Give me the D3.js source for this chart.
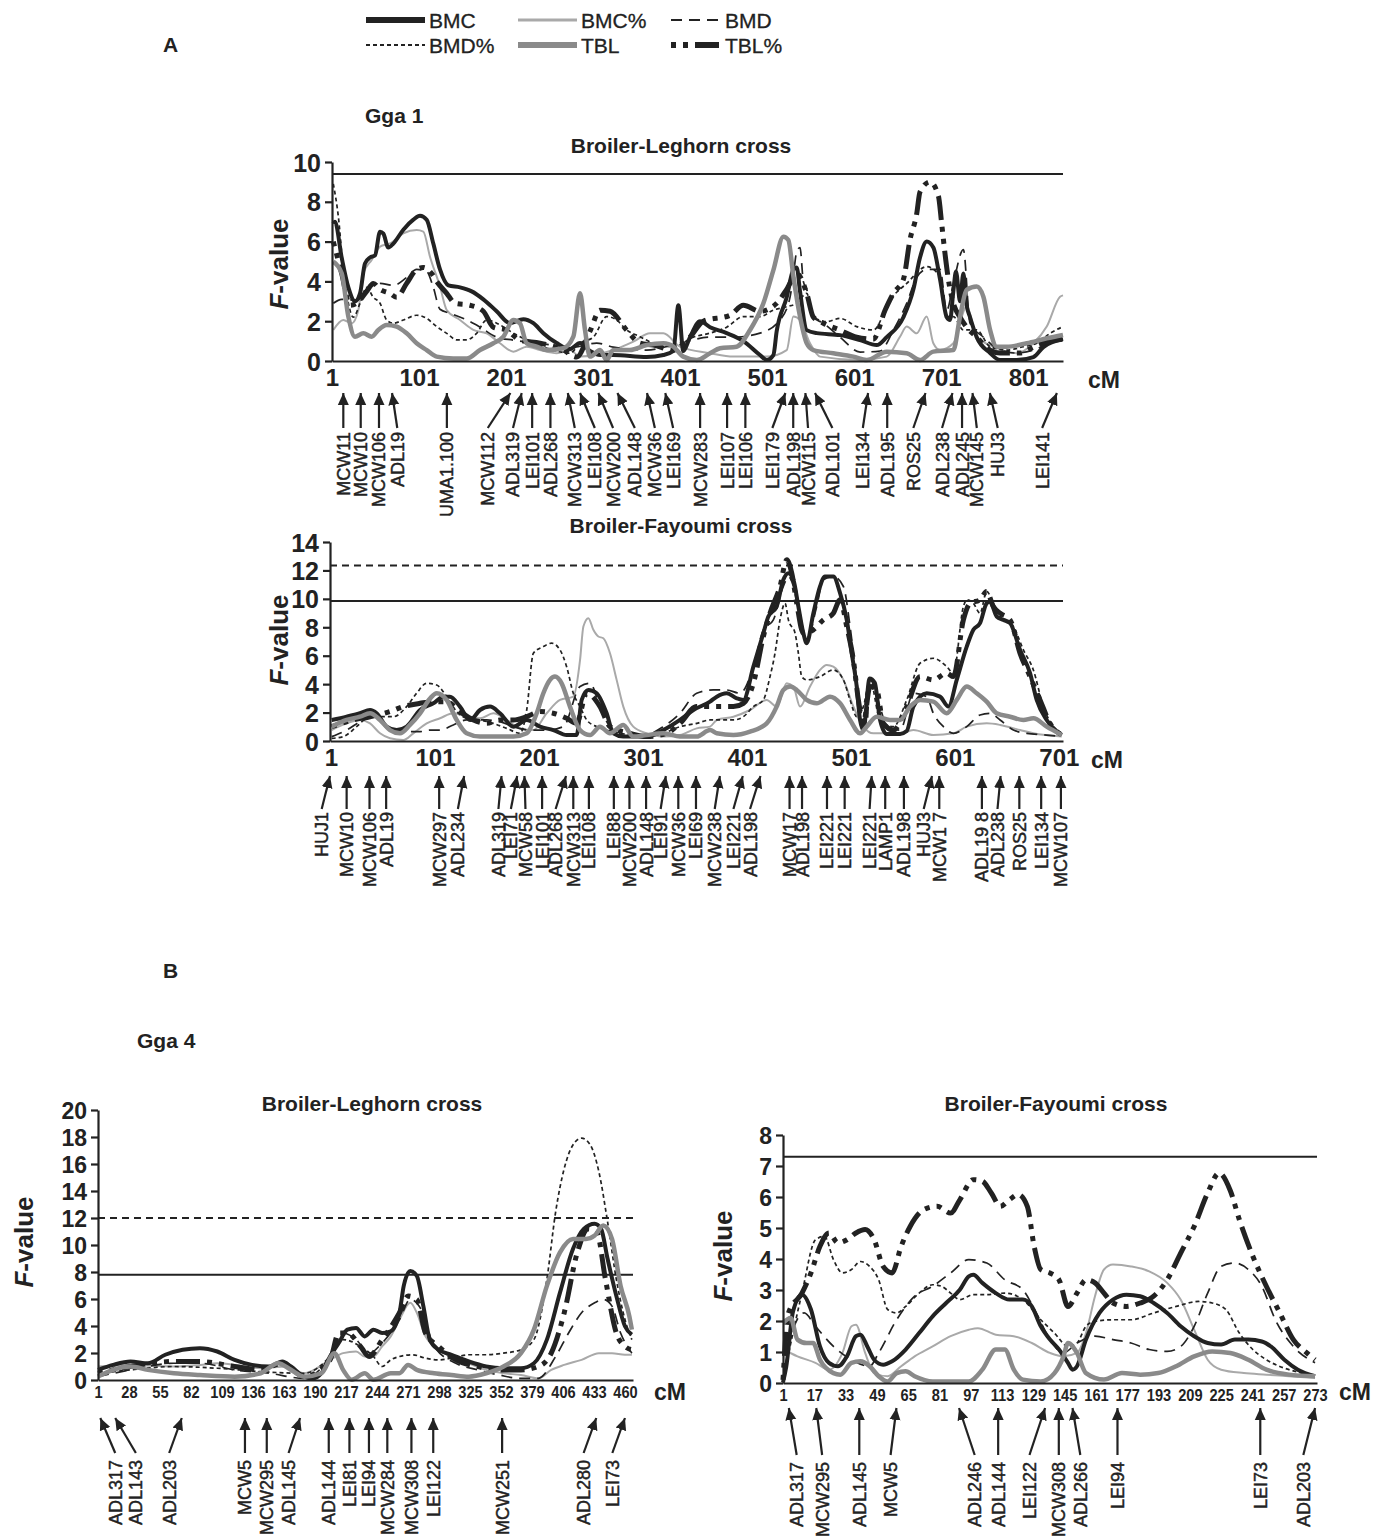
<!DOCTYPE html>
<html><head><meta charset="utf-8">
<script src="https://cdn.jsdelivr.net/npm/d3@7"></script>
<style>
body{margin:0;background:#fff}
svg{display:block}
text{font-family:"Liberation Sans",Arial,Helvetica,sans-serif;fill:#222}
</style>
</head><body>
<svg id="chart" width="1387" height="1537"></svg>
<script>
// ---------------- DATA ----------------
const seriesNames = ["BMC","BMC%","BMD","BMD%","TBL","TBL%"];

// Gga 1, Broiler-Leghorn cross  [cM, F]
const g1BL_BMC = [[2.5,6.9],[4.4,7.0],[12.1,5.2],[19.8,3.7],[27.4,3.0],[33.2,3.4],[38.9,4.9],[44.7,5.2],[50.4,5.3],[56.2,6.5],[60,6.4],[65.7,5.7],[71.5,5.9],[83,6.6],[94.5,7.1],[102.1,7.3],[109.8,7.1],[117.4,5.9],[125.1,4.6],[134.7,3.8],[148.1,3.7],[161.5,3.5],[174.9,3.1],[190.2,2.5],[205.5,1.9],[220.9,2.1],[232.4,1.9],[243.9,1.4],[259.2,0.9],[274.5,0.6],[286,0.9],[297.5,0.5],[309,0.3],[324.3,0.3],[362.6,0.2],[381.8,0.3],[393.3,0.5],[399,2.8],[404.7,0.5],[412.4,1.2],[423.9,2.0],[435.4,1.7],[454.5,1.4],[473.7,1.0],[492.8,0.3],[500.5,0.05],[508.2,0.3],[512,1.5],[523.5,3.2],[531.2,4.6],[535,4.7],[538.8,3.5],[546.5,1.55],[558,1.4],[584.8,1.3],[607.8,1.05],[626.9,0.8],[638.4,1.2],[657.6,2.2],[669.1,3.6],[676.7,5.2],[684.4,6.0],[692,5.7],[699.7,4.1],[707.4,2.2],[711.2,2.06],[715,3.5],[718,4.5],[722.7,3.0],[726.5,4.4],[730.3,2.8],[734.2,2.2],[741.8,1.2],[757.2,0.4],[768.6,0.05],[787.8,0.05],[807,0.2],[818.4,0.7],[841,1.1]];
const g1BL_BMCp = [[2.5,1.56],[14,2.06],[23.6,1.89],[31.3,2.56],[37,4.41],[46.6,5.08],[56.2,5.75],[67.6,5.91],[83,6.42],[98.3,6.58],[105.9,6.5],[113.6,5.24],[125.1,3.74],[132.8,2.56],[148.1,2.06],[163.4,1.56],[178.7,1.39],[194.1,0.89],[209.4,0.47],[224.7,0.72],[240,0.55],[259.2,0.39],[274.5,0.55],[286,0.22],[324.3,0.55],[347.3,0.97],[366.4,1.39],[381.8,1.39],[400.9,0.72],[435.4,0.39],[462.2,0.22],[500.5,0.22],[523.5,0.55],[531.2,2.23],[538.8,2.06],[550.3,0.89],[561.8,0.22],[607.8,0.05],[638.4,0.22],[653.7,1.22],[661.4,1.73],[672.9,1.39],[684.4,2.23],[692,0.89],[699.7,0.55],[715,0.89],[730.3,2.73],[741.8,1.22],[761,0.72],[787.8,0.39],[807,0.89],[822.3,1.73],[837.6,3.23],[841,3.3]];
const g1BL_BMD = [[2.5,2.9],[12.1,3.1],[29.3,3.05],[44.7,3.7],[56.2,3.9],[71.5,3.8],[86.8,4.2],[98.3,4.6],[109.8,4.5],[117.4,3.7],[125.1,2.6],[136.6,2.4],[155.8,2.06],[171.1,1.7],[190.2,1.2],[209.4,1.05],[232.4,0.9],[255.3,0.8],[278.3,0.7],[305.1,0.9],[324.3,0.7],[362.6,0.55],[400.9,0.9],[435.4,1.2],[462.2,1.2],[492.8,1.4],[515.8,2.06],[527.3,3.2],[531.2,4.3],[535,5.5],[538.8,5.7],[542.6,4.0],[546.5,3.6],[554.1,2.2],[565.6,1.9],[584.8,1.2],[607.8,0.45],[630.7,0.5],[646.1,1.55],[661.4,2.9],[672.9,4.2],[684.4,4.6],[699.7,4.6],[707.4,2.55],[715,3.9],[726.5,5.6],[734.2,1.9],[749.5,1.2],[768.6,0.55],[787.8,0.4],[807,0.55],[826.1,0.9],[841,1.1]];
const g1BL_BMDp = [[2.5,8.9],[8.3,7.25],[14,4.6],[19.8,2.9],[25.5,2.2],[33.2,2.9],[40.8,3.7],[48.5,3.2],[56.2,2.9],[63.8,2.06],[71.5,1.9],[83,2.06],[98.3,2.3],[109.8,2.14],[121.3,1.73],[132.8,1.39],[144.3,1.06],[155.8,1.06],[167.2,1.39],[178.7,2.06],[190.2,1.9],[209.4,1.4],[232.4,0.9],[255.3,0.55],[274.5,0.39],[286,0.9],[301.3,1.2],[316.6,2.23],[328.1,2.06],[339.6,1.56],[354.9,1.22],[370.3,0.89],[393.3,0.72],[416.2,1.2],[435.4,1.4],[454.5,1.7],[473.7,2.23],[492.8,2.23],[508.2,2.56],[523.5,2.73],[535,2.9],[546.5,3.4],[554.1,2.23],[569.5,1.98],[584.8,2.14],[603.9,1.73],[623.1,1.56],[642.2,3.07],[661.4,3.9],[684.4,4.74],[699.7,4.24],[707.4,2.23],[715,2.23],[726.5,1.56],[741.8,1.56],[757.2,0.72],[776.3,0.55],[795.5,0.72],[810.8,0.89],[826.1,1.39],[841,1.73]];
const g1BL_TBL = [[2.5,4.99],[12.1,4.41],[19.8,2.23],[27.4,1.22],[37,1.39],[46.6,1.22],[54.2,1.56],[63.8,1.81],[75.3,1.73],[86.8,1.39],[98.3,0.89],[109.8,0.55],[121.3,0.22],[140.4,0.13],[155.8,0.13],[171.1,0.55],[186.4,0.89],[197.9,1.22],[209.4,2.06],[217,1.89],[224.7,0.89],[236.2,0.72],[247.7,0.55],[266.8,0.64],[278.3,1.22],[286,3.4],[291.7,1.56],[297.5,0.22],[309,0.55],[316.6,0.05],[324.3,0.55],[343.4,0.55],[362.6,0.8],[381.8,0.89],[393.3,0.72],[404.7,0.22],[420.1,0.05],[435.4,0.39],[446.9,0.64],[466,0.72],[481.4,1.56],[496.7,2.9],[508.2,4.57],[519.7,6.25],[525.4,6.08],[531.2,4.24],[538.8,2.23],[546.5,0.89],[554.1,0.55],[577.1,0.39],[600.1,0.22],[615.4,0.05],[638.4,0.47],[661.4,0.39],[676.7,0.05],[692,0.47],[715,0.55],[722.7,2.23],[730.3,3.57],[741.8,3.74],[749.5,3.23],[757.2,1.56],[764.8,0.72],[776.3,0.72],[799.3,0.89],[822.3,1.14],[841,1.31]];
const g1BL_TBLp = [[2.5,6.0],[12.1,4.4],[21.7,2.8],[29.3,2.9],[40.8,3.5],[48.5,3.9],[56.2,3.6],[67.6,3.4],[75.3,3.2],[86.8,3.9],[98.3,4.6],[105.9,4.7],[115.5,4.4],[121.3,4.0],[132.8,3.4],[142.3,2.9],[159.6,2.8],[174.9,2.5],[186.4,1.7],[201.7,1.55],[217,1.05],[240,0.9],[266.8,0.55],[282.1,0.2],[297.5,1.5],[309,2.55],[320.5,2.5],[339.6,1.55],[354.9,0.9],[370.3,0.8],[393.3,0.55],[412.4,1.2],[427.7,2.0],[458.4,2.3],[473.7,2.8],[492.8,2.5],[512,2.9],[523.5,3.6],[535,4.4],[546.5,3.4],[554.1,2.2],[565.6,1.9],[584.8,1.55],[603.9,1.2],[623.1,1.1],[636.5,2.55],[646.1,3.4],[657.6,4.1],[665.2,6.1],[672.9,7.4],[676.7,8.5],[688.2,9.0],[697.8,8.3],[701.6,6.9],[705.4,5.4],[709.3,4.1],[715,2.9],[722.7,2.2],[730.3,1.7],[741.8,1.2],[757.2,0.55],[768.6,0.4],[791.6,0.4],[807,0.7],[826.1,1.0],[841,1.1]];
const g1BL_threshold = [9.4];
const g1BL_thresholdDashed = [];

// Gga 1, Broiler-Fayoumi cross
const g1BF_BMC = [[1.6,1.48],[16,1.71],[28.8,1.95],[38.5,2.18],[44.9,1.95],[54.5,1.01],[64.1,0.77],[73.7,1.01],[86.6,2.18],[99.4,2.65],[109,3.12],[115.4,3.12],[125,2.42],[134.7,1.48],[144.3,2.18],[153.9,2.42],[163.5,1.95],[176.3,1.01],[189.2,1.48],[202,1.01],[214.8,0.77],[227.6,0.42],[237.2,0.42],[242.1,2.89],[248.5,3.59],[256.5,3.36],[266.1,1.95],[272.5,0.54],[282.1,0.31],[304.6,0.31],[320.6,0.77],[336.6,1.48],[349.5,2.18],[365.5,2.77],[372,3.12],[381.5,3.36],[391.2,3.0],[397.6,2.89],[407.2,5.23],[416.8,7.58],[421.6,8.76],[429.6,9.46],[436,11.34],[440.9,11.81],[445.7,11.34],[450.5,9.46],[455.3,7.58],[458.5,6.88],[464.9,8.99],[471.3,10.87],[476,11.57],[484.1,11.57],[490.6,10.4],[497,8.52],[501.8,6.17],[506.6,3.83],[509.8,1.48],[513,0.77],[519,4.4],[524,4.1],[529,1.5],[535.4,0.5],[548.3,0.5],[554.7,0.7],[561.1,2.42],[573.9,3.36],[586.7,3.12],[594.8,2.42],[602.8,4.3],[612.4,6.64],[618.8,7.82],[625.2,8.29],[631.6,9.69],[634.8,9.81],[641.2,8.76],[647.7,8.52],[654.1,8.29],[663.7,6.41],[673.3,4.77],[679.7,2.89],[689.3,1.48],[703.8,0.42]];
const g1BF_BMCp = [[1.6,0.77],[16,1.24],[28.8,1.48],[38.5,1.24],[48.1,0.54],[57.7,0.19],[70.5,0.07],[80.1,0.54],[93,1.24],[105.8,1.6],[118.6,1.95],[131.4,1.71],[144.3,1.6],[157.1,1.95],[169.9,1.48],[182.7,0.89],[195.6,0.77],[208.4,1.95],[221.2,2.89],[234,3.12],[240.5,5.7],[243.7,8.05],[248.5,8.64],[253.3,7.82],[258.1,7.35],[262.9,7.23],[269.3,6.17],[275.7,4.3],[282.1,2.42],[291.7,1.01],[304.6,0.54],[320.6,0.31],[336.6,0.42],[352.7,0.89],[365.5,1.01],[372,1.48],[388,1.71],[404,2.18],[420,2.89],[429.6,2.42],[439.3,4.06],[445.7,3.83],[452.1,2.42],[461.7,3.83],[471.3,5.0],[477.7,5.35],[484.1,5.23],[493.8,4.3],[503.4,2.42],[513,1.01],[522.6,0.54],[548.3,0.54],[561.1,0.77],[580.3,0.42],[599.6,0.54],[612.4,1.01],[631.6,1.24],[644.5,1.13],[663.7,0.77],[676.5,0.54],[703.8,0.31]];
const g1BF_BMD = [[1.6,0.31],[16,0.77],[32.1,1.48],[44.9,1.71],[57.7,0.77],[70.5,0.66],[86.6,0.66],[96.2,0.77],[105.8,0.77],[118.6,1.13],[131.4,1.48],[150.7,1.48],[163.5,1.36],[176.3,1.01],[192.4,0.77],[208.4,0.77],[224.4,1.01],[240.5,3.83],[250.1,4.06],[259.7,2.42],[269.3,1.01],[288.5,0.31],[304.6,0.42],[320.6,1.01],[336.6,1.95],[352.7,3.36],[368.7,3.6],[381.5,3.59],[394.4,3.36],[407.2,5.23],[416.8,7.82],[426.4,8.52],[436,10.87],[440.9,11.57],[445.7,10.87],[452.1,8.52],[458.5,7.11],[468.1,9.46],[474.5,11.34],[484.1,11.57],[493.8,10.87],[500.2,8.05],[505,5.23],[509.8,2.42],[516.2,1.01],[519.4,4.3],[529,2.42],[535.4,1.01],[548.3,0.77],[561.1,3.36],[573.9,3.12],[580.3,1.95],[590,1.01],[599.6,0.54],[612.4,1.01],[625.2,1.83],[634.8,1.95],[644.5,1.48],[657.3,0.77],[670.1,0.54],[689.3,0.42],[703.8,0.31]];
const g1BF_BMDp = [[1.6,0.19],[12.8,0.31],[25.6,1.01],[35.3,1.6],[44.9,1.71],[60.9,1.71],[73.7,2.42],[83.3,3.36],[93,4.06],[102.6,3.94],[112.2,3.12],[121.8,2.07],[131.4,1.6],[144.3,1.48],[157.1,1.24],[169.9,0.89],[182.7,0.54],[189.2,2.18],[195.6,6.17],[205.2,6.64],[213.2,6.88],[221.2,6.41],[227.6,5.23],[234,3.36],[240.5,2.42],[246.9,1.48],[256.5,1.01],[266.1,0.77],[288.5,0.42],[304.6,0.31],[320.6,0.54],[336.6,1.01],[352.7,1.24],[365.5,1.48],[375.1,1.48],[388,1.48],[397.6,1.71],[407.2,2.42],[416.8,2.89],[423.2,4.53],[428,6.17],[432.8,8.52],[437.7,9.69],[440.9,8.52],[447.3,7.58],[450.5,6.17],[453.7,4.53],[458.5,4.3],[471.3,4.53],[484.1,5.0],[493.8,4.3],[500.2,2.89],[506.6,1.71],[513,2.42],[519.4,4.3],[529,1.48],[541.9,1.01],[554.7,2.89],[567.5,5.47],[580.3,5.82],[593.2,5.23],[599.6,4.77],[609.2,9.46],[612.4,9.93],[618.8,9.69],[625.2,8.99],[631.6,10.52],[638,9.69],[644.5,8.76],[657.3,8.05],[666.9,6.41],[676.5,5.0],[686.1,2.42],[695.7,1.01],[703.8,0.54]];
const g1BF_TBL = [[1.6,1.01],[16,1.48],[28.8,1.71],[38.5,1.95],[48.1,1.48],[57.7,0.77],[67.3,0.54],[76.9,1.13],[86.6,1.95],[96.2,2.99],[102.6,3.36],[112.2,2.89],[121.8,1.48],[131.4,0.54],[144.3,0.31],[160.3,0.31],[176.3,0.31],[189.2,0.54],[198.8,1.95],[205.2,3.36],[211.6,4.3],[216.4,4.53],[222.8,4.06],[230.8,2.42],[240.5,0.77],[250.1,0.42],[259.7,1.01],[269.3,0.54],[282.1,1.13],[291.7,0.31],[304.6,0.42],[320.6,0.54],[336.6,0.31],[352.7,0.31],[365.5,0.77],[372,0.54],[388,0.42],[404,0.66],[420,1.24],[429.6,2.42],[436,3.59],[442.5,3.83],[448.9,3.59],[458.5,2.89],[468.1,2.65],[480.9,3.12],[490.6,2.65],[500.2,1.48],[509.8,0.54],[516.2,1.01],[525.8,1.71],[538.6,1.48],[548.3,1.48],[557.9,2.42],[567.5,2.89],[580.3,2.77],[593.2,1.95],[602.8,2.89],[612.4,3.83],[622,3.36],[631.6,2.77],[641.2,1.95],[654.1,1.71],[666.9,1.48],[676.5,1.6],[689.3,1.01],[703.8,0.42]];
const g1BF_TBLp = [[1.6,1.01],[22.4,1.48],[38.5,1.71],[57.7,2.07],[70.5,2.42],[86.6,2.65],[99.4,2.77],[112.2,2.77],[125,2.07],[137.9,1.48],[150.7,1.24],[163.5,1.48],[176.3,1.48],[189.2,1.71],[202,2.07],[214.8,1.95],[227.6,1.6],[237.2,1.24],[246.9,3.36],[259.7,2.42],[269.3,1.01],[288.5,0.54],[304.6,0.31],[323.8,0.54],[336.6,1.24],[352.7,2.42],[372,2.42],[388,2.42],[397.6,2.65],[407.2,4.06],[416.8,7.35],[423.2,8.99],[432.8,10.87],[439.3,12.75],[444.1,11.81],[448.9,9.69],[455.3,7.58],[464.9,7.82],[474.5,8.52],[484.1,8.99],[490.6,9.93],[497,8.05],[503.4,5.7],[508.2,2.89],[513,1.24],[519.4,3.83],[525.8,3.59],[532.2,1.24],[541.9,0.77],[554.7,2.42],[567.5,4.53],[580.3,4.3],[593.2,4.77],[599.6,4.53],[609.2,8.52],[615.6,9.69],[625.2,9.93],[631.6,10.52],[638,9.46],[644.5,8.99],[654.1,8.52],[663.7,6.17],[673.3,4.53],[682.9,2.89],[692.5,1.24],[703.8,0.42]];
const g1BF_threshold = [9.85];
const g1BF_thresholdDashed = [12.35];

// Gga 4, Broiler-Leghorn cross
const g4BL_BMC = [[1,0.75],[14.2,1.12],[29.3,1.37],[44.4,1.24],[59.6,1.87],[74.7,2.24],[89.8,2.36],[104.9,2.11],[120,1.49],[135.1,1.12],[150.2,1.0],[161.6,1.37],[169.1,1.0],[180.5,0.25],[188,0.12],[195.6,0.5],[203.1,1.74],[210.7,2.74],[218.2,3.73],[225.8,3.86],[233.3,3.23],[240.9,3.73],[248.5,3.48],[256,3.61],[263.6,4.98],[267.3,6.97],[273,8.08],[278.7,7.71],[284.4,5.47],[290,2.99],[297.6,2.24],[308.9,1.87],[324,1.37],[339.1,1.0],[354.2,0.87],[369.4,0.87],[380.7,1.24],[392,2.99],[403.4,6.47],[414.7,9.7],[424.1,11.19],[433.6,11.57],[439.2,11.19],[444.9,8.96],[452.5,6.22],[460,3.98],[466,3.36]];
const g4BL_BMCp = [[1,1.0],[29.3,1.12],[67.1,1.0],[89.8,1.12],[104.9,1.24],[120,1.12],[142.7,0.87],[165.3,1.0],[180.5,0.5],[203.1,1.49],[214.5,1.99],[225.8,2.11],[233.3,1.74],[240.9,1.74],[248.5,2.49],[256,3.23],[263.6,4.48],[273,5.72],[278.7,4.98],[286.2,3.23],[293.8,2.49],[308.9,1.74],[324,1.24],[339.1,0.75],[354.2,0.5],[369.4,0.37],[384.5,0.12],[395.8,0.75],[407.1,1.12],[422.2,1.49],[437.3,1.99],[448.7,1.99],[460,1.87],[466,1.87]];
const g4BL_BMD = [[1,0.25],[29.3,0.75],[67.1,1.24],[89.8,1.24],[120,0.75],[150.2,0.5],[180.5,0.12],[203.1,1.74],[214.5,3.48],[225.8,2.99],[237.1,1.99],[248.5,2.74],[263.6,4.48],[273,5.97],[282.5,5.22],[293.8,2.49],[312.7,1.24],[331.6,0.75],[350.5,0.37],[369.4,0.12],[384.5,0.12],[399.6,1.74],[410.9,3.48],[422.2,4.98],[433.6,5.72],[441.1,5.97],[448.7,5.47],[456.2,3.48],[466,1.99]];
const g4BL_BMDp = [[1,0.5],[29.3,0.75],[67.1,1.0],[104.9,0.87],[142.7,0.62],[180.5,0.5],[203.1,1.74],[214.5,2.99],[229.6,2.49],[240.9,1.74],[248.5,1.0],[256,1.49],[263.6,1.74],[274.9,1.87],[286.2,1.62],[297.6,1.49],[308.9,1.62],[324,1.87],[339.1,1.87],[354.2,1.99],[369.4,2.24],[380.7,2.99],[392,7.46],[399.6,12.44],[407.1,15.67],[414.7,17.41],[422.2,17.91],[429.8,17.41],[437.3,15.42],[444.9,11.69],[452.5,7.46],[460,4.48],[466,2.99]];
const g4BL_TBL = [[1,0.25],[14.2,0.75],[29.3,1.0],[44.4,0.75],[67.1,0.5],[89.8,0.37],[120,0.25],[142.7,0.5],[157.8,1.24],[169.1,0.75],[180.5,0.25],[195.6,0.5],[206.9,1.99],[214.5,0.75],[222,0.02],[233.3,0.5],[240.9,0.02],[256,0.5],[263.6,0.5],[271.1,1.12],[278.7,0.75],[293.8,0.5],[308.9,0.37],[324,0.25],[339.1,0.5],[354.2,1.0],[369.4,1.99],[380.7,3.73],[392,6.97],[403.4,9.45],[414.7,10.45],[426,10.45],[433.6,10.7],[441.1,11.44],[448.7,10.45],[456.2,6.97],[463.8,4.73],[466,3.73]];
const g4BL_TBLp = [[1,0.5],[29.3,1.0],[67.1,1.37],[89.8,1.37],[120,1.0],[142.7,0.75],[161.6,1.24],[180.5,0.25],[203.1,1.49],[210.7,3.48],[218.2,3.48],[229.6,2.49],[237.1,1.74],[248.5,2.99],[263.6,4.98],[271.1,6.22],[278.7,5.97],[286.2,3.48],[297.6,2.49],[312.7,1.49],[331.6,1.0],[350.5,0.75],[369.4,0.75],[384.5,1.0],[395.8,1.99],[407.1,4.98],[418.5,9.45],[427.9,11.19],[435.5,10.95],[443,7.46],[452.5,3.48],[460,2.49],[466,2.24]];
const g4BL_threshold = [7.8];
const g4BL_thresholdDashed = [12.0];

// Gga 4, Broiler-Fayoumi cross
const g4BF_BMC = [[1,0.02],[2.6,0.5],[6.1,2.3],[10.7,2.85],[15.3,2.37],[19.9,1.18],[24.5,0.65],[29.1,0.54],[33.7,0.86],[38.3,1.51],[40.6,1.56],[44.1,1.18],[47.6,0.75],[52.2,0.59],[56.8,0.7],[63.7,1.08],[70.6,1.61],[77.5,2.15],[84.4,2.58],[91.4,3.01],[96,3.44],[98.3,3.49],[102.9,3.23],[109.8,2.9],[116.7,2.69],[123.6,2.69],[128.2,2.47],[132.8,1.83],[137.5,1.4],[142.1,1.08],[146.7,0.65],[149,0.43],[151.3,0.54],[155.9,1.4],[162.8,2.26],[169.7,2.69],[176.6,2.85],[183.6,2.8],[190.5,2.58],[197.4,2.26],[204.3,1.83],[211.2,1.51],[218.1,1.29],[225,1.24],[232,1.4],[238.9,1.4],[245.8,1.34],[250.4,1.18],[257.3,0.75],[264.2,0.43],[273,0.22]];
const g4BF_BMCp = [[1,1.08],[8.4,0.86],[17.6,0.65],[24.5,0.43],[31.4,0.97],[36,1.83],[38.3,1.88],[43,0.97],[47.6,0.32],[54.5,0.22],[61.4,0.54],[68.3,0.86],[77.5,1.18],[86.7,1.51],[96,1.72],[100.6,1.77],[109.8,1.56],[119,1.51],[128.2,1.29],[137.5,0.97],[144.4,0.86],[151.3,0.97],[155.9,1.61],[160.5,2.8],[165.1,3.66],[169.7,3.82],[178.9,3.76],[188.2,3.6],[197.4,3.23],[204.3,2.69],[211.2,1.72],[218.1,0.75],[225,0.43],[236.6,0.32],[248.1,0.27],[259.6,0.22],[273,0.16]];
const g4BF_BMD = [[1,0.05],[6.1,1.72],[11.8,2.26],[17.6,1.83],[26.8,1.18],[36,0.75],[45.3,0.54],[49.9,0.97],[59.1,2.04],[68.3,2.8],[77.5,3.12],[86.7,3.55],[96,3.98],[105.2,3.87],[114.4,3.33],[123.6,3.01],[130.5,2.26],[137.5,1.4],[144.4,0.97],[151.3,1.29],[160.5,1.51],[169.7,1.4],[178.9,1.29],[188.2,1.08],[197.4,1.02],[204.3,1.18],[211.2,1.83],[218.1,2.9],[225,3.76],[232,3.87],[238.9,3.66],[245.8,3.12],[252.7,2.04],[261.9,1.18],[273,0.65]];
const g4BF_BMDp = [[1,0.1],[10.7,2.9],[17.6,4.62],[22.2,4.73],[26.8,3.98],[31.4,3.55],[36,3.66],[40.6,3.92],[45.3,3.76],[49.9,3.33],[54.5,2.37],[59.1,2.26],[63.7,2.47],[70.6,2.9],[77.5,3.17],[82.1,3.12],[86.7,2.9],[91.4,2.69],[98.3,2.85],[105.2,2.85],[114.4,2.9],[123.6,2.69],[132.8,2.04],[139.8,1.61],[146.7,1.18],[151.3,1.29],[155.9,1.83],[160.5,1.99],[169.7,2.04],[178.9,2.04],[190.5,2.26],[202,2.47],[213.5,2.63],[220.4,2.58],[227.4,2.37],[234.3,1.61],[241.2,1.08],[248.1,0.75],[257.3,0.48],[266.5,0.32],[273,0.22]];
const g4BF_TBL = [[1,1.94],[4.9,2.1],[8.4,1.4],[13,1.29],[16.4,1.29],[19.9,0.75],[26.8,0.32],[30.3,0.27],[36,0.65],[40.6,0.7],[45.3,0.54],[49.9,0.22],[54.5,0.05],[59.1,0.32],[63.7,0.38],[68.3,0.22],[77.5,0.05],[86.7,0.05],[96,0.05],[102.9,0.43],[109.8,1.08],[114.4,1.08],[119,0.43],[123.6,0.11],[132.8,0.05],[139.8,0.32],[144.4,0.86],[146.7,1.29],[151.3,0.97],[155.9,0.32],[165.1,0.11],[174.3,0.32],[183.6,0.27],[192.8,0.32],[202,0.54],[211.2,0.86],[220.4,1.02],[229.7,0.97],[238.9,0.75],[248.1,0.43],[259.6,0.27],[273,0.22]];
const g4BF_TBLp = [[1,0.1],[3.8,2.26],[10.7,2.9],[15.3,3.55],[19.9,4.41],[24.5,4.84],[29.1,4.52],[33.7,4.62],[38.3,4.84],[43,4.95],[47.6,4.62],[52.2,3.76],[56.8,3.55],[61.4,4.41],[66,5.05],[72.9,5.59],[79.8,5.7],[86.7,5.48],[91.4,5.91],[98.3,6.56],[102.9,6.51],[107.5,6.13],[112.1,5.7],[116.7,5.91],[121.3,6.08],[125.9,5.7],[129.4,4.41],[132.8,3.66],[137.5,3.55],[142.1,3.33],[146.7,2.47],[151.3,2.9],[155.9,3.33],[160.5,3.23],[165.1,2.9],[169.7,2.58],[176.6,2.47],[183.6,2.58],[190.5,2.8],[197.4,3.33],[204.3,4.19],[211.2,5.05],[218.1,6.13],[223.9,6.77],[229.7,6.2],[234.3,5.27],[241.2,4.09],[248.1,3.12],[255,2.26],[261.9,1.4],[268.8,0.97],[273,0.75]];
const g4BF_threshold = [7.3];
const g4BF_thresholdDashed = [];

// tick labels
const g1BL_xTicks = [1,101,201,301,401,501,601,701,801];
const g1BL_yTicks = [0,2,4,6,8,10];
const g1BF_xTicks = [1,101,201,301,401,501,601,701];
const g1BF_yTicks = [0,2,4,6,8,10,12,14];
const g4BL_xTicks = [1,28,55,82,109,136,163,190,217,244,271,298,325,352,379,406,433,460];
const g4BL_yTicks = [0,2,4,6,8,10,12,14,16,18,20];
const g4BF_xTicks = [1,17,33,49,65,81,97,113,129,145,161,177,193,209,225,241,257,273];
const g4BF_yTicks = [0,1,2,3,4,5,6,7,8];

// markers: [name, map position (cM), label position (cM)]
const g1BL_markers = [["MCW11",14,14],["MCW10",34,34],["MCW106",55,55],["ADL19",70,76],["UMA1.100",133,133],["MCW112",206,180],["ADL319",219,209],["LEI101",231,231],["ADL268",252,252],["MCW313",272,280],["LEI108",286,303],["MCW200",307,324],["ADL148",329,349],["MCW36",363,372],["LEI169",384,393],["MCW283",424,424],["LEI107",455,455],["LEI106",476,476],["LEI179",522,507],["ADL198",531,531],["MCW115",545,548],["ADL101",556,576],["LEI134",617,611],["ADL195",639,639],["ROS25",683,669],["ADL238",714,702],["ADL245",725,725],["MCW145",737,742],["HUJ3",757,766],["LEI141",834,817]];
const g1BF_markers = [["HUJ1",0,-8],["MCW10",16,16],["MCW106",38,38],["ADL19",54,54],["MCW297",105,105],["ADL234",129,123],["ADL319",165,162],["LEI71",180,174],["MCW58",187,188],["LEI101",204,204],["ADL268",227,217],["MCW313",234,234],["LEI108",249,249],["LEI88",273,273],["MCW200",288,288],["ADL148",304,304],["LEI91",323,318],["MCW36",335,335],["LEI69",352,352],["MCW238",375,370],["LEI221",397,388],["ADL198",414,404],["MCW17",442,442],["ADL198",454,454],["LEI221",478,478],["LEI221",495,495],["LEI221",521,519],["LAMP1",534,534],["ADL198",552,552],["HUJ3",579,571],["MCW1 7",586,586],["ADL19 8",627,627],["ADL238",645,642],["ROS25",663,663],["LEI134",684,684],["MCW107",703,703]];
const g4BL_markers = [["ADL317",3,16],["ADL143",16,34],["ADL203",74,63],["MCW5",129,129],["MCW295",148,148],["ADL145",177,167],["ADL144",202,202],["LEI81",220,220],["LEI94",237,237],["MCW284",253,253],["MCW308",274,274],["LEI122",293,293],["MCW251",353,353],["ADL280",435,424],["LEI73",460,449]];
const g4BF_markers = [["ADL317",4,8],["MCW295",18,21],["ADL145",40,40],["MCW5",59,56],["ADL246",91,99],["ADL144",111,111],["LEI122",135,127],["MCW308",142,142],["ADL266",149,153],["LEI94",172,172],["LEI73",245,245],["ADL203",273,267]];

// ---------------- DRAWING ----------------
const svg = d3.select("#chart");
const FONT = '"Liberation Sans",Arial,Helvetica,sans-serif';

const styles = {
  "BMC":  {stroke:"#222", width:4,   dash:null},
  "BMC%": {stroke:"#a9a9a9", width:2, dash:null},
  "BMD":  {stroke:"#222", width:1.7, dash:"11,7"},
  "BMD%": {stroke:"#222", width:1.7, dash:"4,3"},
  "TBL":  {stroke:"#8a8a8a", width:4.5, dash:null},
  "TBL%": {stroke:"#222", width:5,   dash:"5,7,5,7,24,7"}
};
const legendWidth = {"BMC":6,"BMC%":3,"BMD":2,"BMD%":2,"TBL":6,"TBL%":6};
const drawOrder = ["BMC%","BMD%","BMD","BMC","TBL%","TBL"];

// arrowhead
svg.append("defs").append("marker")
  .attr("id","ah").attr("markerUnits","userSpaceOnUse")
  .attr("viewBox","0 0 12 12").attr("refX",12).attr("refY",6)
  .attr("markerWidth",12).attr("markerHeight",12).attr("orient","auto")
  .append("path").attr("d","M0,0.5 L12,6 L0,11.5 Z").attr("fill","#222");

function panel(c) {
  const x = d3.scaleLinear().domain(c.xDomain).range(c.xRange);
  const y = d3.scaleLinear().domain(c.yDomain).range(c.yRange);
  const g = svg.append("g");

  // thresholds
  c.dashed.forEach(v => g.append("line")
    .attr("x1", x(c.xDomain[0])).attr("x2", x(c.xDomain[1]))
    .attr("y1", y(v)).attr("y2", y(v))
    .attr("stroke","#222").attr("stroke-width",2).attr("stroke-dasharray","7,5"));
  c.solid.forEach(v => g.append("line")
    .attr("x1", x(c.xDomain[0])).attr("x2", x(c.xDomain[1]))
    .attr("y1", y(v)).attr("y2", y(v))
    .attr("stroke","#222").attr("stroke-width",2));

  // curves
  const line = d3.line().x(d => x(d[0])).y(d => y(Math.max(0,d[1]))).curve(d3.curveMonotoneX);
  drawOrder.forEach(name => {
    const s = styles[name];
    g.append("path").datum(c.series[name]).attr("d", line)
      .attr("fill","none").attr("stroke", s.stroke).attr("stroke-width", s.width)
      .attr("stroke-dasharray", s.dash).attr("stroke-linejoin","round");
  });

  // axes
  const xa = g.append("g").attr("transform",`translate(0,${y(0)})`)
    .call(d3.axisBottom(x).tickValues(c.xTicks).tickSize(0).tickSizeOuter(0).tickPadding(c.xPad).tickFormat(d3.format("d")));
  const ya = g.append("g").attr("transform",`translate(${x(c.xDomain[0])},0)`)
    .call(d3.axisLeft(y).tickValues(c.yTicks).tickSize(7).tickSizeOuter(0).tickPadding(4).tickFormat(d3.format("d")));
  [xa, ya].forEach(a => {
    a.attr("font-family", null).attr("font-size", null);
    a.select(".domain").attr("stroke","#222").attr("stroke-width",2.2);
    a.selectAll(".tick line").attr("stroke","#222").attr("stroke-width",2.2);
    a.selectAll("text").attr("fill","#222").style("font-family",FONT).style("font-weight","bold");
  });
  xa.selectAll("text").style("font-size", c.xFont + "px");
  if (c.xCond) xa.selectAll("text").attr("transform", `scale(${c.xCond},1)`);
  ya.selectAll("text").style("font-size", c.yFont + "px").attr("dy","0.36em");

  // axis titles
  g.append("text").attr("x", c.cm[0]).attr("y", c.cm[1])
    .style("font-size", "23px").style("font-weight","bold").text("cM");
  const fv = g.append("text")
    .attr("transform", `translate(${c.fv[0]},${c.fv[1]}) rotate(-90)`)
    .attr("text-anchor","middle").attr("dy","0.35em")
    .style("font-size","26px").style("font-weight","bold");
  fv.append("tspan").style("font-style","italic").text("F");
  fv.append("tspan").text("-value");
  g.append("text").attr("x", c.title[0]).attr("y", c.title[1]).attr("text-anchor","middle")
    .style("font-size","21px").style("font-weight","bold").text(c.titleText);

  // markers
  c.markers.forEach(m => {
    const tx = x(m[1]), lx = x(m[2]);
    g.append("line").attr("x1", lx).attr("y1", c.tailY).attr("x2", tx).attr("y2", c.tipY)
      .attr("stroke","#222").attr("stroke-width",2.2).attr("marker-end","url(#ah)");
    g.append("text").attr("transform", `translate(${lx},${c.labelTop}) rotate(-90)`)
      .attr("text-anchor","end").attr("dy","0.36em")
      .attr("stroke","#222").attr("stroke-width",0.45)
      .style("font-size","18px").text(m[0]);
  });
}

function seriesOf(a,b,c,d,e,f){ return {"BMC":a,"BMC%":b,"BMD":c,"BMD%":d,"TBL":e,"TBL%":f}; }

panel({
  xDomain:[1,841], xRange:[332,1063], yDomain:[0,10], yRange:[361,162],
  xTicks:g1BL_xTicks, yTicks:g1BL_yTicks, xFont:24, yFont:25, xPad:8,
  solid:g1BL_threshold, dashed:g1BL_thresholdDashed,
  series:seriesOf(g1BL_BMC,g1BL_BMCp,g1BL_BMD,g1BL_BMDp,g1BL_TBL,g1BL_TBLp),
  cm:[1088,388], fv:[279,264], title:[681,153], titleText:"Broiler-Leghorn cross",
  markers:g1BL_markers, tipY:393, tailY:428, labelTop:432
});
panel({
  xDomain:[0,705], xRange:[330,1063], yDomain:[0,14], yRange:[741,542],
  xTicks:g1BF_xTicks, yTicks:g1BF_yTicks, xFont:24, yFont:25, xPad:8,
  solid:g1BF_threshold, dashed:g1BF_thresholdDashed,
  series:seriesOf(g1BF_BMC,g1BF_BMCp,g1BF_BMD,g1BF_BMDp,g1BF_TBL,g1BF_TBLp),
  cm:[1091,768], fv:[279,640], title:[681,533], titleText:"Broiler-Fayoumi cross",
  markers:g1BF_markers, tipY:776, tailY:809, labelTop:812
});
panel({
  xDomain:[1,467], xRange:[98,633], yDomain:[0,20], yRange:[1380,1110],
  xTicks:g4BL_xTicks, yTicks:g4BL_yTicks, xFont:17, yFont:23, xPad:6, xCond:0.86,
  solid:g4BL_threshold, dashed:g4BL_thresholdDashed,
  series:seriesOf(g4BL_BMC,g4BL_BMCp,g4BL_BMD,g4BL_BMDp,g4BL_TBL,g4BL_TBLp),
  cm:[654,1400], fv:[24,1242], title:[372,1111], titleText:"Broiler-Leghorn cross",
  markers:g4BL_markers, tipY:1418, tailY:1453, labelTop:1460
});
panel({
  xDomain:[1,274], xRange:[783,1317], yDomain:[0,8], yRange:[1383,1135],
  xTicks:g4BF_xTicks, yTicks:g4BF_yTicks, xFont:17, yFont:23, xPad:6, xCond:0.86,
  solid:g4BF_threshold, dashed:g4BF_thresholdDashed,
  series:seriesOf(g4BF_BMC,g4BF_BMCp,g4BF_BMD,g4BF_BMDp,g4BF_TBL,g4BF_TBLp),
  cm:[1339,1400], fv:[723,1256], title:[1056,1111], titleText:"Broiler-Fayoumi cross",
  markers:g4BF_markers, tipY:1408, tailY:1455, labelTop:1462
});

// legend
const legX = [[366,59],[518,59],[671,50]];
seriesNames.forEach((name,i) => {
  const row = Math.floor(i/3), col = i % 3;
  const s = styles[name];
  const lx = legX[col][0], len = legX[col][1], ly = 20 + row*25;
  svg.append("line").attr("x1",lx).attr("x2",lx+len).attr("y1",ly).attr("y2",ly)
    .attr("stroke",s.stroke).attr("stroke-width",legendWidth[name]).attr("stroke-dasharray",s.dash);
  svg.append("text").attr("x",lx+len+4).attr("y",ly+7.5).style("font-size","21px")
    .attr("stroke","#222").attr("stroke-width",0.3).text(name);
});

// panel letters and chromosome labels
[["A",163,52],["Gga 1",365,123],["B",163,978],["Gga 4",137,1048]].forEach(t =>
  svg.append("text").attr("x",t[1]).attr("y",t[2]).style("font-size","21px").style("font-weight","bold").text(t[0]));
</script>
</body></html>
